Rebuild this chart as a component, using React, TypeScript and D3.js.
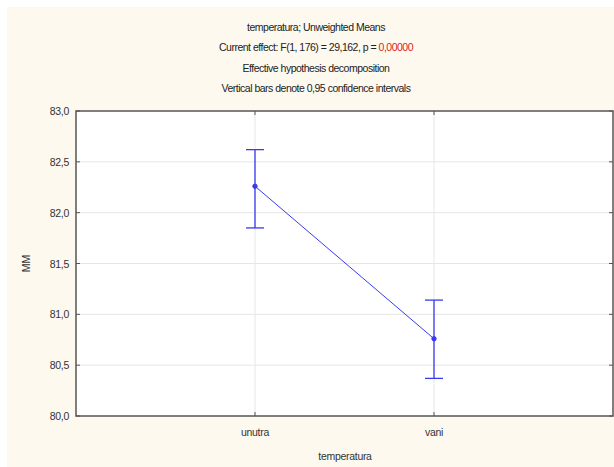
import React from "react";
import * as d3 from "d3";

const categories = ["unutra", "vani"];
const means = [82.26, 80.76];
const upper = [82.62, 81.14];
const lower = [81.85, 80.37];
const yTicks = [80.0, 80.5, 81.0, 81.5, 82.0, 82.5, 83.0];
const titleLines = [
  "temperatura; Unweighted Means",
  "Effective hypothesis decomposition",
  "Vertical bars denote 0,95 confidence intervals",
];
const effectText = "Current effect: F(1, 176) = 29,162, p = ";
const pText = "0,00000";

export default function App() {
  const W = 614, H = 467;
  const left = 76, right = 613, top = 111, bottom = 416;
  const x = d3.scaleLinear().domain([0, categories.length + 1]).range([left, right]);
  const y = d3.scaleLinear().domain([80, 83]).range([bottom, top]);
  const fmt = (v: number) => v.toFixed(1).replace(".", ",");
  const line = d3.line<number>().x((_, i) => x(i + 1)).y((d) => y(d));
  const blue = "#3a3af0";
  const font = "'Liberation Sans', Arial, sans-serif";
  const cx = 316;
  return (
    <svg width={W} height={H} style={{ position: "absolute", left: 0, top: 0 }} fontFamily={font}>
      <rect x={0} y={0} width={W} height={H} fill="#ffffff" />
      <rect x={7} y={7} width={W - 7} height={H - 7} fill="#fdf9ef" />
      <g fontSize={10.5} fill="#222" textAnchor="middle" letterSpacing={-0.5}>
        <text x={cx} y={31}>{titleLines[0]}</text>
        <text x={cx} y={51}>
          <tspan>{effectText}</tspan>
          <tspan fill="#e02020">{pText}</tspan>
        </text>
        <text x={cx} y={72}>{titleLines[1]}</text>
        <text x={cx} y={92}>{titleLines[2]}</text>
      </g>
      <rect x={left} y={top} width={right - left} height={bottom - top} fill="#ffffff" />
      {yTicks.slice(1, -1).map((t) => (
        <line key={"g" + t} x1={left} x2={right} y1={y(t)} y2={y(t)} stroke="#e6e6e6" strokeWidth={1} />
      ))}
      {categories.map((c, i) => (
        <line key={"v" + c} x1={x(i + 1)} x2={x(i + 1)} y1={top} y2={bottom} stroke="#e6e6e6" strokeWidth={1} />
      ))}
      {yTicks.map((t) => (
        <g key={"t" + t}>
          <line x1={left} x2={left + 4} y1={y(t)} y2={y(t)} stroke="#555" />
          <line x1={right - 4} x2={right} y1={y(t)} y2={y(t)} stroke="#555" />
          <text x={69} y={y(t) + 4} fontSize={10.5} fill="#333" textAnchor="end" letterSpacing={-0.3}>{fmt(t)}</text>
        </g>
      ))}
      {categories.map((c, i) => (
        <g key={"c" + c}>
          <line x1={x(i + 1)} x2={x(i + 1)} y1={bottom - 4} y2={bottom} stroke="#555" />
          <line x1={x(i + 1)} x2={x(i + 1)} y1={top} y2={top + 4} stroke="#555" />
          <text x={x(i + 1)} y={436} fontSize={10.5} fill="#333" textAnchor="middle" letterSpacing={-0.3}>{c}</text>
        </g>
      ))}
      <rect x={left} y={top} width={right - left} height={bottom - top} fill="none" stroke="#555" strokeWidth={1.5} />
      <text x={345} y={460} fontSize={10.5} fill="#333" textAnchor="middle" letterSpacing={-0.3}>temperatura</text>
      <text transform={`translate(30, ${(top + bottom) / 2}) rotate(-90)`} fontSize={10.5} fill="#333" textAnchor="middle">MM</text>
      {means.map((m, i) => (
        <g key={"e" + i} stroke={blue} strokeWidth={1.3}>
          <line x1={x(i + 1)} x2={x(i + 1)} y1={y(upper[i])} y2={y(lower[i])} />
          <line x1={x(i + 1) - 9} x2={x(i + 1) + 9} y1={y(upper[i])} y2={y(upper[i])} />
          <line x1={x(i + 1) - 9} x2={x(i + 1) + 9} y1={y(lower[i])} y2={y(lower[i])} />
        </g>
      ))}
      <path d={line(means) || ""} fill="none" stroke={blue} strokeWidth={1} />
      {means.map((m, i) => (
        <circle key={"p" + i} cx={x(i + 1)} cy={y(m)} r={2.2} fill={blue} stroke={blue} />
      ))}
    </svg>
  );
}
